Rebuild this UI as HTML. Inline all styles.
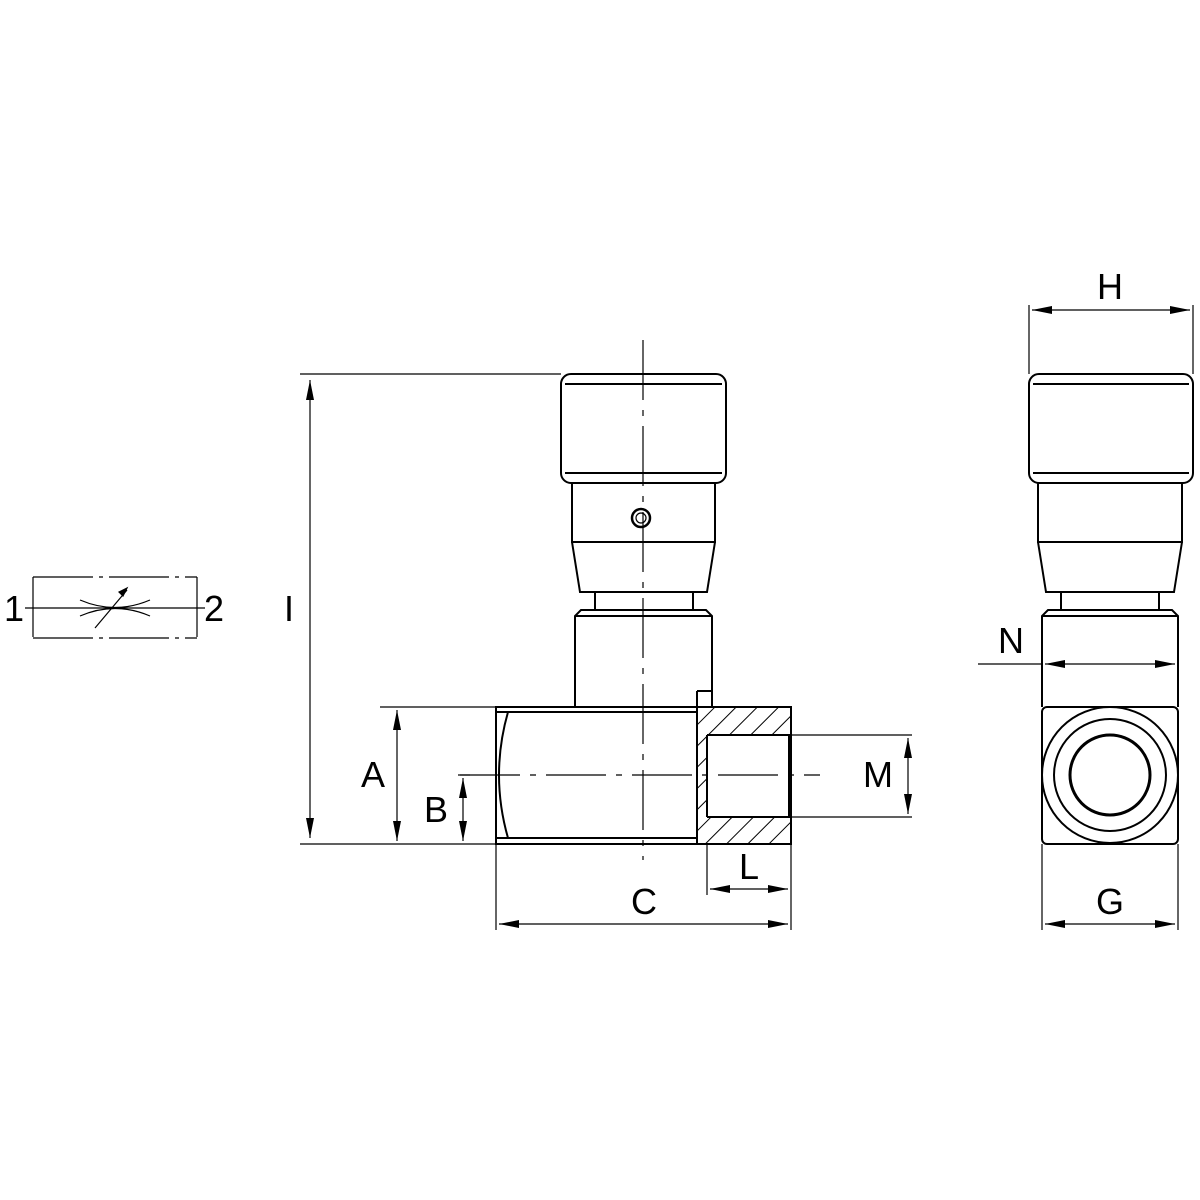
<!DOCTYPE html>
<html><head><meta charset="utf-8"><style>body{margin:0;background:#fff}svg{display:block}</style></head><body>
<svg width="1200" height="1200" viewBox="0 0 1200 1200" xmlns="http://www.w3.org/2000/svg" font-family="Liberation Sans, sans-serif">
<defs>
<marker id="a" viewBox="0 0 20 8" refX="20" refY="4" markerWidth="20" markerHeight="8" markerUnits="userSpaceOnUse" orient="auto-start-reverse"><path d="M0,0L20,4L0,8z" fill="#000"/></marker>
<pattern id="h" patternUnits="userSpaceOnUse" width="15" height="15" patternTransform="rotate(45)"><line x1="0" y1="0" x2="0" y2="15" stroke="#000" stroke-width="2"/></pattern>
</defs>
<g fill="none" stroke="#000" stroke-width="2">
<g stroke-width="1.2">
<path d="M33,577H197M33,638H197M33,577V638M197,577V638" stroke-dasharray="60,6,4,6"/>
<line x1="25" y1="608" x2="205" y2="608"/>
<path d="M80,600Q115,615 150,600M80,616Q115,601 150,616"/>
<line x1="95" y1="628" x2="127" y2="590"/>
<path d="M127,588l-8,4l4,4z" fill="#000"/>
</g>
<rect x="561" y="374" width="165" height="109" rx="10"/>
<path d="M565,384H722M565,473H722"/>
<path d="M572,483V542H715V483M572,542L580,592H707L715,542"/>
<path d="M595,592V610M693,592V610"/>
<path d="M575,707V616L581,610H706L712,616V707M575,616H712"/>
<circle cx="641" cy="518" r="9" stroke-width="2.5"/><circle cx="641" cy="518" r="5" stroke-width="1.2"/>
<rect x="697" y="707" width="94" height="137" fill="url(#h)" stroke="none"/>
<rect x="707" y="735" width="82" height="82" fill="#fff" stroke="none"/>
<path d="M496,707H791V844H496Z"/>
<path d="M496,712H697M496,838H697M508,712Q490,775 508,838"/>
<path d="M697,691H712V707M697,691V844M707,735H791M707,817H791M707,735V817M789,735V817"/>
<path d="M791,735H912M791,817H912" stroke-width="1.2"/>
<g stroke-width="1.2" stroke-dasharray="60,10,6,10">
<line x1="643" y1="340" x2="643" y2="860"/>
<line x1="460" y1="775" x2="820" y2="775"/>
</g>
<g stroke-width="1.2">
<line x1="300" y1="374" x2="561" y2="374"/>
<line x1="300" y1="844" x2="496" y2="844"/>
<line x1="310" y1="380" x2="310" y2="838" marker-start="url(#a)" marker-end="url(#a)"/>
<line x1="380" y1="707" x2="496" y2="707"/>
<line x1="397" y1="710" x2="397" y2="841" marker-start="url(#a)" marker-end="url(#a)"/>
<line x1="458" y1="775" x2="470" y2="775"/>
<line x1="463" y1="778" x2="463" y2="841" marker-start="url(#a)" marker-end="url(#a)"/>
<line x1="908" y1="738" x2="908" y2="814" marker-start="url(#a)" marker-end="url(#a)"/>
<line x1="496" y1="844" x2="496" y2="930"/>
<line x1="791" y1="844" x2="791" y2="930"/>
<line x1="707" y1="844" x2="707" y2="895"/>
<line x1="499" y1="924" x2="788" y2="924" marker-start="url(#a)" marker-end="url(#a)"/>
<line x1="710" y1="889" x2="788" y2="889" marker-start="url(#a)" marker-end="url(#a)"/>
</g>
<rect x="1029" y="374" width="164" height="109" rx="10"/>
<path d="M1033,384H1189M1033,473H1189"/>
<path d="M1038,483V542H1182V483M1038,542L1046,592H1174L1182,542M1182,505V530"/>
<path d="M1061,592V610M1159,592V610"/>
<path d="M1042,707V616L1048,610H1172L1178,616V707M1042,616H1178"/>
<rect x="1042" y="707" width="136" height="137" rx="5"/>
<circle cx="1110" cy="775" r="68"/><circle cx="1110" cy="775" r="56"/><circle cx="1110" cy="775" r="40" stroke-width="3"/>
<g stroke-width="1.2">
<line x1="1029" y1="305" x2="1029" y2="374"/>
<line x1="1193" y1="305" x2="1193" y2="374"/>
<line x1="1032" y1="310" x2="1190" y2="310" marker-start="url(#a)" marker-end="url(#a)"/>
<line x1="978" y1="664" x2="1042" y2="664"/>
<line x1="1045" y1="664" x2="1175" y2="664" marker-start="url(#a)" marker-end="url(#a)"/>
<line x1="1042" y1="844" x2="1042" y2="930"/>
<line x1="1178" y1="844" x2="1178" y2="930"/>
<line x1="1045" y1="924" x2="1175" y2="924" marker-start="url(#a)" marker-end="url(#a)"/>
</g>
</g>
<g font-size="36" fill="#000" text-anchor="middle">
<text x="14" y="621">1</text><text x="214" y="621">2</text>
<text x="289" y="621">I</text><text x="373" y="787">A</text><text x="436" y="822">B</text>
<text x="878" y="787">M</text><text x="644" y="914">C</text><text x="749" y="879">L</text>
<text x="1110" y="299">H</text><text x="1011" y="653">N</text><text x="1110" y="914">G</text>
</g>
</svg>
</body></html>
